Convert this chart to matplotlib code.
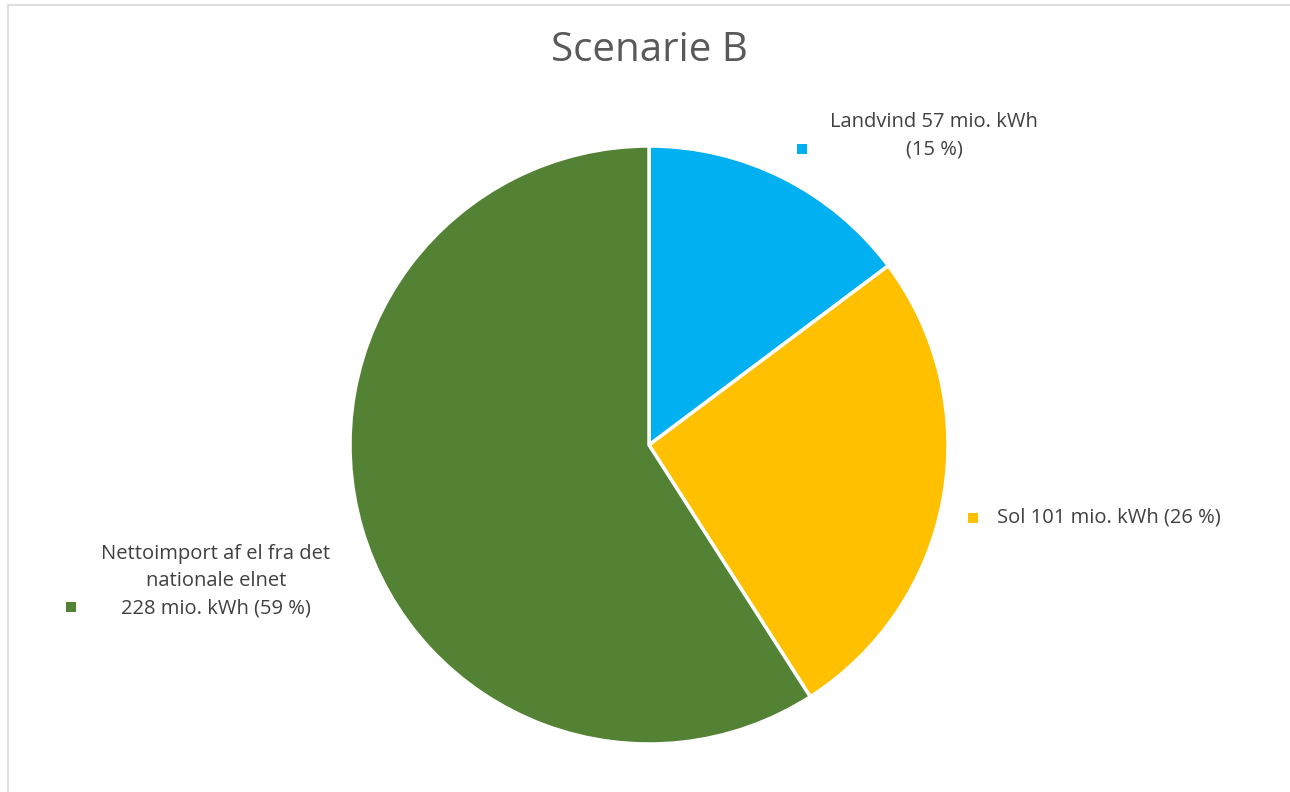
import matplotlib.pyplot as plt
from matplotlib.patches import Rectangle

plt.rcParams['font.family'] = ['Open Sans', 'DejaVu Sans']

labels = ['Landvind', 'Sol', 'Nettoimport af el fra det\nnationale elnet\n']
values = [57, 101, 228]
percents = [15, 26, 59]
colors = ['#00B0F0', '#FFC000', '#548235']

W, H = 1290, 792
fig = plt.figure(figsize=(W / 100, H / 100), dpi=100)

# light frame like the chart area in the original (right and bottom run off the image)
fig.patches.append(Rectangle((8 / W, -0.05), 1.1, 1.05 - 5 / H, transform=fig.transFigure,
                             fill=False, edgecolor='#d9d9d9', linewidth=1.2))

cx, cy, r = 649, 445, 299
ax = fig.add_axes([(cx - r) / W, (H - cy - r) / H, 2 * r / W, 2 * r / H])
ax.pie(values, colors=colors, startangle=90, counterclock=False,
       wedgeprops=dict(edgecolor='white', linewidth=2.5, clip_on=False))
ax.set_xlim(-1, 1)
ax.set_ylim(-1, 1)
ax.set_aspect('equal')

fig.text(649 / W, 1 - 51 / H, 'Scenarie B', ha='center', va='center',
         fontsize=29, color='#595959')

txt = [f'{labels[0]} {values[0]} mio. kWh\n({percents[0]} %)',
       f'{labels[1]} {values[1]} mio. kWh ({percents[1]} %)',
       f'{labels[2]}{values[2]} mio. kWh ({percents[2]} %)']
# (marker x, marker y, text x, text y, ha)
places = [(802, 149, 934, 136, 'center'),
          (973, 518, 997, 518, 'left'),
          (71, 607, 216, 581, 'center')]

for t, c, (mx, my, tx, ty, ha) in zip(txt, colors, places):
    s = 10
    fig.patches.append(Rectangle(((mx - s / 2) / W, 1 - (my + s / 2) / H), s / W, s / H,
                                 transform=fig.transFigure, facecolor=c, edgecolor='none'))
    fig.text(tx / W, 1 - ty / H, t, ha=ha, va='center', fontsize=14.5,
             color='#404040', multialignment='center', linespacing=1.5)

fig.savefig('out.png', dpi=100)
